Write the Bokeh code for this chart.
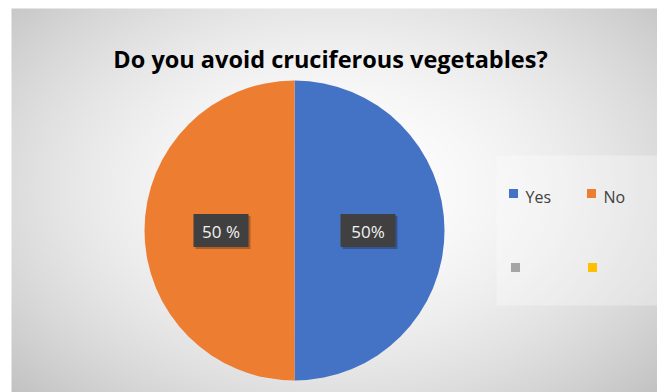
import numpy as np
from bokeh.plotting import figure
from bokeh.models import Range1d
from bokeh.core.properties import value
from bokeh.embed import file_html
from bokeh.resources import INLINE

# ---- data ----
title = "Do you avoid cruciferous vegetables?"
categories = ["Yes", "No", "", ""]
values = [50, 50, 0, 0]
labels = ["50%", "50 %"]
colors = ["#4472C4", "#ED7D31", "#A5A5A5", "#FFC000"]

W, H = 657, 392
p = figure(width=W, height=H, output_backend="svg", toolbar_location=None,
           x_range=Range1d(0, W), y_range=Range1d(0, H), min_border=0)
p.axis.visible = False
p.grid.visible = False
p.outline_line_color = None
p.background_fill_color = "white"
p.border_fill_color = "white"

# ---- radial gradient background (style only) ----
x0, y0 = 11, 0
bw, bh = W - 11, H - 8
xs = np.arange(bw) + x0 + 0.5
ys = np.arange(bh) + y0 + 0.5
XX, YY = np.meshgrid(xs, ys)
cx_g, cy_g = 335, 205
d = np.sqrt(((XX - cx_g) / 370.0) ** 2 + ((YY - cy_g) / 250.0) ** 2)
t = np.clip(d, 0, 1.25)
g = np.clip(255 - 44 * t ** 1.8, 0, 255).astype(np.uint32)
img = (255 << 24) | (g << 16) | (g << 8) | g
p.image_rgba(image=[img.astype(np.uint32)], x=x0, y=y0, dw=bw, dh=bh)

# ---- pie ----
cx, cy, r = 294, H - 230, 150
total = sum(values)
cum = np.cumsum([0] + values) / total
starts = [np.pi / 2 - cum[i + 1] * 2 * np.pi for i in range(len(values))]
ends = [np.pi / 2 - cum[i] * 2 * np.pi for i in range(len(values))]
for i, v in enumerate(values):
    if v > 0:
        p.wedge(x=cx, y=cy, radius=r, start_angle=starts[i], end_angle=ends[i],
                direction="anticlock", fill_color=colors[i], line_color=None)

# ---- data labels ----
for i, lab in enumerate(labels):
    mid = (starts[i] + ends[i]) / 2
    lx = cx + 0.49 * r * np.cos(mid)
    ly = cy + 0.49 * r * np.sin(mid)
    p.rect(x=lx + 2, y=ly - 2, width=55, height=33, fill_color="black",
           fill_alpha=0.25, line_color=None)
    p.rect(x=lx, y=ly, width=55, height=33, fill_color="#404040",
           line_color=None)
    p.text(x=[lx], y=[ly - 1], text=[lab], text_align="center",
           text_baseline="middle", text_color="#f2f2f2",
           text_font=value("Open Sans"), text_font_size="17px")

# ---- title ----
p.text(x=[330], y=[H - 58], text=[title], text_align="center",
       text_baseline="middle", text_color="black",
       text_font=value("Open Sans"), text_font_style="bold",
       text_font_size="23.5px")

# ---- legend ----
p.quad(left=496, right=W, bottom=H - 305, top=H - 155, fill_color="white",
       fill_alpha=0.3, line_color=None)
leg_x = [513, 591, 515, 592]
leg_y = [H - 193, H - 193, H - 267, H - 267]
for i, cat in enumerate(categories):
    p.scatter(x=[leg_x[i]], y=[leg_y[i]], marker="square", size=9,
              fill_color=colors[i], line_color=None)
    if cat:
        p.text(x=[leg_x[i] + 12], y=[leg_y[i] - 3], text=[cat],
               text_align="left", text_baseline="middle",
               text_color="#404040", text_font=value("Open Sans"),
               text_font_size="16px")

open("out.html", "w").write(file_html(p, INLINE))
